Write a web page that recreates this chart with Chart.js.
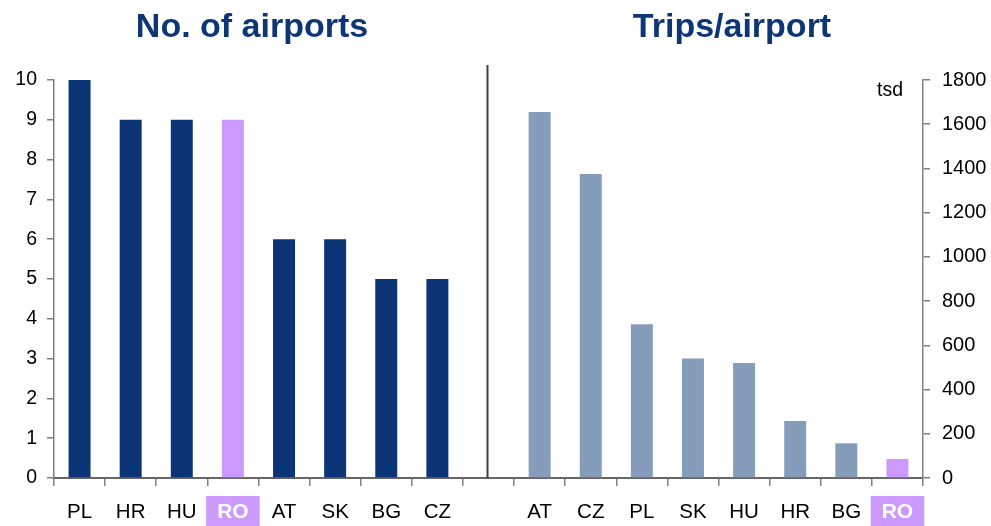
<!DOCTYPE html>
<html>
<head>
<meta charset="utf-8">
<script src="https://cdn.jsdelivr.net/npm/chart.js@4/dist/chart.umd.min.js"></script>
<style>
  html, body { margin: 0; padding: 0; background: #ffffff; }
  #wrap { width: 991px; height: 526px; }
</style>
</head>
<body>
<div id="wrap"><canvas id="c" width="991" height="526"></canvas></div>
<script>
// ---- data ----
const airportCountries = ['PL', 'HR', 'HU', 'RO', 'AT', 'SK', 'BG', 'CZ'];
const airportCounts    = [10, 9, 9, 9, 6, 6, 5, 5];
const tripCountries    = ['AT', 'CZ', 'PL', 'SK', 'HU', 'HR', 'BG', 'RO'];
const tripsPerAirport  = [1655, 1375, 695, 540, 520, 258, 157, 86];
const leftTitle  = 'No. of airports';
const rightTitle = 'Trips/airport';
const rightUnit  = 'tsd';
const leftTickMax = 10, leftTickStep = 1;
const rightTickMax = 1800, rightTickStep = 200;
const highlight = 'RO';

// ---- styling ----
const DARK = '#0b3577';
const LIGHT = '#869cbb';
const PURPLE = '#cc99ff';
const FONT = "'Liberation Sans', Arial, sans-serif";

const gap = [''];
const labels = [...airportCountries, ...gap, ...tripCountries];
const leftData = [...airportCounts, ...Array(gap.length + tripCountries.length).fill(null)];
const rightData = [...Array(airportCountries.length + gap.length).fill(null), ...tripsPerAirport];
const leftColors = [...airportCountries.map(c => c === highlight ? PURPLE : DARK), ...Array(gap.length + tripCountries.length).fill(DARK)];
const rightColors = [...Array(airportCountries.length + gap.length).fill(LIGHT), ...tripCountries.map(c => c === highlight ? PURPLE : LIGHT)];

const overlay = {
  id: 'overlay',
  afterDraw(chart) {
    const ctx = chart.ctx;
    const x = chart.scales.x;
    const area = chart.chartArea;
    ctx.save();
    // divider in the gap slot
    const gx = Math.round(x.getPixelForValue(airportCountries.length)) - 1.5;
    ctx.strokeStyle = '#404040';
    ctx.lineWidth = 2;
    ctx.beginPath();
    ctx.moveTo(gx, area.top - 15);
    ctx.lineTo(gx, area.bottom);
    ctx.stroke();
    // titles
    ctx.fillStyle = '#0d3677';
    ctx.font = "bold 34px " + FONT;
    ctx.textAlign = 'center';
    ctx.textBaseline = 'alphabetic';
    ctx.fillText(leftTitle, 252, 37);
    ctx.fillText(rightTitle, 732, 37);
    // unit
    ctx.fillStyle = '#000';
    ctx.font = "19.5px " + FONT;
    ctx.textAlign = 'right';
    ctx.fillText(rightUnit, area.right - 20, area.top + 16);
    ctx.restore();
  }
};

new Chart(document.getElementById('c'), {
  type: 'bar',
  data: {
    labels: labels,
    datasets: [
      { data: leftData, yAxisID: 'y', backgroundColor: leftColors, grouped: false,
        barPercentage: 0.43, categoryPercentage: 1.0 },
      { data: rightData, yAxisID: 'y2', backgroundColor: rightColors, grouped: false,
        barPercentage: 0.43, categoryPercentage: 1.0 }
    ]
  },
  options: {
    responsive: false,
    animation: false,
    events: [],
    layout: { padding: { top: 80, left: 0, right: 0, bottom: 0 } },
    plugins: { legend: { display: false }, title: { display: false }, tooltip: { enabled: false } },
    scales: {
      x: {
        offset: true,
        afterFit: (s) => { s.height = 48; },
        grid: { display: true, offset: true, drawOnChartArea: false, drawTicks: true, tickLength: 8, color: '#808080', lineWidth: 1.5 },
        border: { display: true, color: '#666666', width: 2 },
        ticks: {
          autoSkip: false, maxRotation: 0, padding: 14,
          font: (c) => ({ family: FONT, size: labels[c.index] === highlight ? 21 : 20.5, weight: labels[c.index] === highlight ? 'bold' : 'normal' }),
          color: (c) => labels[c.index] === highlight ? '#ffffff' : '#000000',
          showLabelBackdrop: (c) => labels[c.index] === highlight,
          backdropColor: PURPLE,
          backdropPadding: { left: 11, right: 11, top: 4, bottom: 4 }
        }
      },
      y: {
        position: 'left', min: 0, max: leftTickMax,
        afterFit: (s) => { s.width = 54; },
        grid: { drawOnChartArea: false, drawTicks: true, tickLength: 7, color: '#808080', lineWidth: 1.5 },
        border: { display: true, color: '#808080', width: 1.5 },
        ticks: { stepSize: leftTickStep, padding: 10, color: '#000', font: { family: FONT, size: 19.5 },
                 callback: (v) => String(v) }
      },
      y2: {
        position: 'right', min: 0, max: rightTickMax,
        afterFit: (s) => { s.width = 68; },
        grid: { drawOnChartArea: false, drawTicks: true, tickLength: 7, color: '#808080', lineWidth: 1.5 },
        border: { display: true, color: '#808080', width: 1.5 },
        ticks: { stepSize: rightTickStep, padding: 12, color: '#000', font: { family: FONT, size: 20 },
                 callback: (v) => String(v) }
      }
    }
  },
  plugins: [overlay]
});
</script>
</body>
</html>
